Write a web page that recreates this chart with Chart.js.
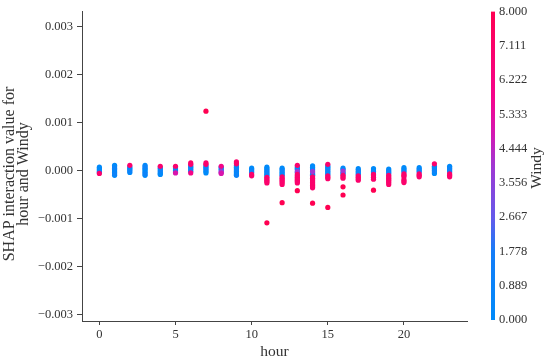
<!DOCTYPE html>
<html>
<head>
<meta charset="utf-8">
<script src="https://cdn.jsdelivr.net/npm/chart.js@4.4.1/dist/chart.umd.min.js"></script>
<style>
html,body{margin:0;padding:0;background:#fff;}
#wrap{position:relative;width:550px;height:361px;}
#main{position:absolute;left:0;top:0;width:480px;height:361px;}
#cbar{position:absolute;left:470px;top:0;width:80px;height:361px;}
</style>
</head>
<body>
<div id="wrap">
<canvas id="main" width="480" height="361"></canvas>
<canvas id="cbar" width="80" height="361"></canvas>
</div>
<script>
// hour categories (x) and SHAP interaction values per hour, with matching Windy values
const hours = [0,1,2,3,4,5,6,7,8,9,10,11,12,13,14,15,16,17,18,19,20,21,22,23];
const shapByHour = [
  [0.00007,0.00004,0.00001,-0.00002,-0.00004,-0.00006],
  [0.00011,0.00008,0.00005,0.00002,-0.00001,-0.00004,-0.00007,-0.0001],
  [0.00011,0.00008,0.00005,0.00002,-0.00001,-0.00004],
  [0.00011,0.00008,0.00005,0.00002,-0.00001,-0.00004,-0.00007,-0.0001],
  [0.00009,0.00006,0.00003,0,-0.00003,-0.00006,-0.00008],
  [0.00009,0.00006,0.00003,0,-0.00003,-0.00005],
  [0.00016,0.00013,0.0001,0.00007,0.00004,0.00001,-0.00002,-0.00005],
  [0.00124,0.00016,0.00013,0.0001,0.00007,0.00004,0.00001,-0.00002,-0.00005],
  [0.00009,0.00007,0.00004,0.00001,-0.00002,-0.00004,-0.00006],
  [0.00018,0.00014,0.0001,0.00007,0.00004,0.00001,-0.00002,-0.00005,-0.00008,-0.0001],
  [0.00005,0.00002,-0.00001,-0.00004,-0.00008,-0.00011],
  [0.00007,0.00004,0.00001,-0.00002,-0.00005,-0.00008,-0.00011,-0.00014,-0.00017,-0.0002,-0.00023,-0.00026,-0.00109],
  [0.00005,0.00002,-0.00001,-0.00004,-0.00007,-0.0001,-0.00013,-0.00016,-0.00019,-0.00022,-0.00025,-0.00029,-0.00067],
  [0.00011,0.00008,0.00005,0.00002,-0.00002,-0.00004,-0.00008,-0.00011,-0.00014,-0.00017,-0.0002,-0.00023,-0.00026,-0.00042],
  [0.0001,0.00007,0.00004,0.00001,-0.00002,-0.00005,-0.00008,-0.0001,-0.00013,-0.00016,-0.00019,-0.00022,-0.00025,-0.00028,-0.00031,-0.00034,-0.00036,-0.00068],
  [0.00013,0.0001,0.00007,0.00004,0.00001,-0.00002,-0.00005,-0.00008,-0.00011,-0.00014,-0.00017,-0.00077],
  [0.00005,0.00002,-0.00001,-0.00004,-0.00007,-0.0001,-0.00013,-0.00016,-0.00034,-0.00051],
  [0.00004,0.00001,-0.00002,-0.00005,-0.00008,-0.00011,-0.00014,-0.00017,-0.0002],
  [0.00004,0.00001,-0.00002,-0.00005,-0.00008,-0.00011,-0.00014,-0.00018,-0.00041],
  [0.00003,0,-0.00003,-0.00006,-0.0001,-0.00013,-0.00016,-0.00019,-0.00022,-0.00025,-0.00029],
  [0.00006,0.00003,0,-0.00003,-0.00007,-0.0001,-0.00013,-0.00019,-0.00022,-0.00025],
  [0.00006,0.00003,0,-0.00003,-0.00007,-0.0001,-0.00013],
  [0.00014,0.00009,0.00006,0.00003,0,-0.00003,-0.00006],
  [0.00009,0.00006,0.00003,0,-0.00003,-0.00007,-0.0001,-0.00013]
];
const windyByHour = [
  [0,0,0,0,1,7],
  [0,0,1,0,0,0,1,0],
  [7,0,0,0,1,0],
  [0,1,0,0,0,0,1,0],
  [7,0,0,1,0,0,0],
  [7,0,0,0,1,5],
  [7,7,0,0,1,0,0,6],
  [8,7,7,0,0,1,0,0,0],
  [6,0,0,1,4,4,5],
  [7,7,0,0,0,1,0,0,0,1],
  [0,0,1,0,7,7],
  [0,0,0,1,0,0,0,7,7,7,7,7,8],
  [0,0,1,0,0,0,7,7,7,7,7,7,8],
  [7,0,0,0,4,0,7,7,7,7,7,7,7,8],
  [0,0,0,1,4,0,0,0,7,7,7,7,7,7,7,7,7,8],
  [7,0,0,0,1,0,0,0,7,7,7,8],
  [0,0,4,0,0,7,7,7,8,8],
  [0,0,1,0,0,7,7,7,7],
  [0,0,0,1,7,7,7,7,8],
  [0,0,1,0,7,7,7,7,7,7,7],
  [0,0,0,1,7,7,7,7,7,7],
  [0,0,1,0,7,7,7],
  [7,0,0,0,1,0,0],
  [0,0,1,0,0,7,7,7]
];
const xTicks = [0,5,10,15,20];
const yTicks = [-0.003,-0.002,-0.001,0,0.001,0.002,0.003];
const windyTicks = [0,0.889,1.778,2.667,3.556,4.444,5.333,6.222,7.111,8];
const yTitle = ['SHAP interaction value for','hour and Windy'];

const serif = "'Liberation Serif','Times New Roman',serif";
const cmapStops = [
  [0,[0,138,250]],[0.22,[20,125,248]],[0.33,[100,90,235]],[0.5,[160,55,210]],
  [0.6,[210,25,180]],[0.72,[245,5,140]],[1,[255,0,82]]
];
function cmap(t){
  t = Math.max(0,Math.min(1,t));
  for(let i=1;i<cmapStops.length;i++){
    const [t1,c1] = cmapStops[i];
    const [t0,c0] = cmapStops[i-1];
    if(t<=t1){
      const f = (t-t0)/(t1-t0);
      const c = c0.map((v,k)=>Math.round(v+(c1[k]-v)*f));
      return 'rgb('+c.join(',')+')';
    }
  }
  return 'rgb(255,0,82)';
}
const wMax = windyTicks[windyTicks.length-1];

const points = [];
hours.forEach((h,i)=>{
  shapByHour[i].forEach((v,j)=>points.push({x:h,y:v,w:windyByHour[i][j]}));
});
points.sort((a,b)=>a.w-b.w);

const fmtY = v => (v<0?'\u2212':'')+Math.abs(v).toFixed(3);

// rotated text helper (reads bottom to top)
function vText(ctx, lines, x, y, size, gap){
  ctx.save();
  ctx.fillStyle='#333';
  ctx.font=size+'px '+serif;
  ctx.textAlign='center';
  ctx.textBaseline='middle';
  lines.forEach((t,i)=>{
    ctx.save();
    ctx.translate(x+i*gap,y);
    ctx.rotate(-Math.PI/2);
    ctx.fillText(t,0,0);
    ctx.restore();
  });
  ctx.restore();
}

new Chart(document.getElementById('main'),{
  type:'scatter',
  data:{datasets:[{
    data:points,
    pointRadius:2.6,
    pointBorderWidth:0,
    pointBackgroundColor:points.map(p=>cmap(p.w/wMax))
  }]},
  options:{
    responsive:false,
    animation:false,
    events:[],
    layout:{padding:{top:7,right:13,left:0,bottom:0}},
    plugins:{legend:{display:false},tooltip:{enabled:false}},
    scales:{
      x:{
        type:'linear',min:-1.14,max:24.14,
        afterBuildTicks:s=>{s.ticks=xTicks.map(v=>({value:v}));},
        afterFit:s=>{s.height=40;},
        grid:{drawOnChartArea:false,drawTicks:true,tickLength:4,color:'#444'},
        border:{display:true,color:'#444',width:1},
        ticks:{color:'#333',font:{family:serif,size:12.5},padding:2,maxRotation:0,callback:v=>String(v)},
        title:{display:true,text:'hour',color:'#333',font:{family:serif,size:15.5},padding:0}
      },
      y:{
        type:'linear',min:-0.00314,max:0.00332,
        afterBuildTicks:s=>{s.ticks=yTicks.map(v=>({value:v}));},
        afterFit:s=>{s.width=82;},
        grid:{drawOnChartArea:false,drawTicks:true,tickLength:5,color:'#444'},
        border:{display:true,color:'#444',width:1},
        ticks:{color:'#333',font:{family:serif,size:12.5},padding:4,callback:fmtY}
      }
    }
  },
  plugins:[{
    id:'yTitle',
    afterDraw(c){ vText(c.ctx, yTitle, 9.5, 174, 16, 14.5); }
  }]
});

// colorbar
new Chart(document.getElementById('cbar'),{
  type:'bar',
  data:{labels:['Windy'],datasets:[{
    data:[[windyTicks[0],wMax]],
    barPercentage:1,categoryPercentage:1,borderWidth:0,
    backgroundColor:c=>{
      const a = c.chart.chartArea;
      if(!a) return cmap(0.5);
      const g = c.chart.ctx.createLinearGradient(0,a.bottom,0,a.top);
      cmapStops.forEach(([t])=>g.addColorStop(t,cmap(t)));
      return g;
    }
  }]},
  options:{
    responsive:false,
    animation:false,
    events:[],
    layout:{padding:{left:21,top:8,bottom:41,right:0}},
    plugins:{legend:{display:false},tooltip:{enabled:false}},
    scales:{
      x:{display:false},
      y:{
        position:'right',min:0,max:wMax,
        afterBuildTicks:s=>{s.ticks=windyTicks.map(v=>({value:v}));},
        afterFit:s=>{s.width=55;},
        grid:{display:false,drawTicks:false},
        border:{display:false},
        ticks:{color:'#333',font:{family:serif,size:12.5},padding:4,callback:v=>v.toFixed(3)}
      }
    }
  },
  plugins:[{
    id:'cbarTitle',
    afterDraw(c){ vText(c.ctx, ['Windy'], 67, 168, 15.5, 0); }
  }]
});
</script>
</body>
</html>
